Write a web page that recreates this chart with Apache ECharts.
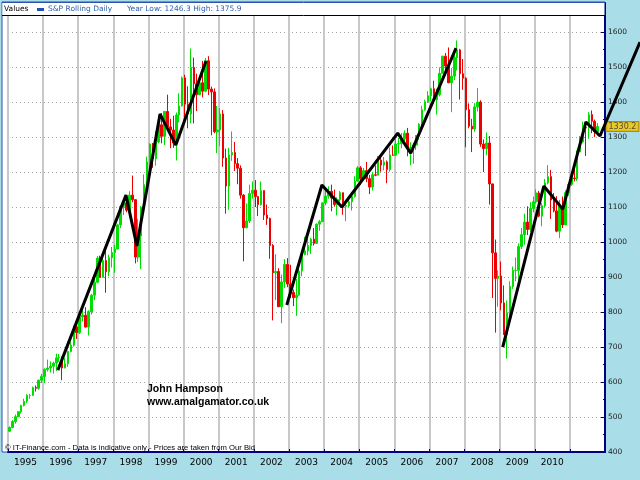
<!DOCTYPE html>
<html><head><meta charset="utf-8">
<script src="https://cdn.jsdelivr.net/npm/echarts@6/dist/echarts.min.js"></script>
<style>html,body{margin:0;padding:0;background:#a9dde8}#c{width:640px;height:480px}</style>
</head><body><div id="c"></div>
<script>
// Year band labels (last band 2011 unlabeled in the reference)
const yearLabels = ['1995','1996','1997','1998','1999','2000','2001','2002','2003','2004','2005','2006','2007','2008','2009','2010',''];
// Monthly-slot candles: [open, close, low, high]
const c1995 = [[459,470,459,473],[470,487,468,491],[487,501,481,507],[501,515,499,517],[515,533,510,535],[533,545,530,552],[545,562,540,565],[562,562,552,566],[562,584,560,587],[584,582,573,590],[582,605,578,607],[605,616,597,623]];
const c1996 = [[616,636,597,639],[636,640,630,664],[640,645,627,659],[645,654,624,658],[654,669,631,681],[669,671,657,680],[671,640,605,673],[640,652,639,669],[652,687,643,690],[687,705,685,714],[705,757,701,762],[757,741,723,761]];
const c1997 = [[741,786,737,794],[786,791,773,817],[791,757,756,814],[757,801,733,805],[801,848,793,852],[848,885,834,898],[885,954,882,960],[954,899,898,961],[899,947,898,960],[947,915,855,983],[915,955,902,964],[955,970,927,986]];
const c1998 = [[970,980,912,992],[980,1049,980,1052],[1049,1102,1040,1106],[1102,1112,1077,1124],[1112,1091,1085,1122],[1091,1134,1074,1145],[1134,1121,1114,1190],[1121,957,939,1122],[957,1017,943,1066],[1017,1099,923,1103],[1099,1164,1099,1193],[1164,1229,1136,1244]];
const c1999 = [[1229,1280,1205,1282],[1280,1238,1212,1283],[1238,1286,1218,1316],[1286,1335,1282,1362],[1335,1302,1282,1368],[1302,1373,1277,1375],[1373,1329,1323,1421],[1329,1320,1268,1352],[1320,1283,1269,1361],[1283,1363,1233,1370],[1363,1389,1342,1425],[1389,1469,1387,1473]];
const c2000 = [[1469,1394,1347,1478],[1394,1366,1325,1445],[1366,1499,1339,1553],[1499,1452,1339,1527],[1452,1421,1374,1481],[1421,1455,1420,1474],[1455,1431,1413,1517],[1431,1518,1428,1526],[1518,1437,1420,1531],[1437,1429,1305,1444],[1429,1315,1311,1439],[1315,1320,1254,1389]];
const c2001 = [[1320,1366,1274,1383],[1366,1240,1215,1377],[1240,1160,1081,1267],[1160,1249,1092,1269],[1249,1256,1232,1316],[1256,1224,1203,1286],[1224,1211,1165,1240],[1211,1134,1124,1219],[1134,1041,945,1137],[1041,1060,1039,1110],[1060,1139,1054,1164],[1139,1148,1124,1173]];
const c2002 = [[1148,1130,1100,1177],[1130,1107,1074,1131],[1107,1147,1104,1173],[1147,1077,1063,1147],[1077,1067,1049,1107],[1067,990,952,1070],[990,912,776,994],[912,916,834,965],[916,815,815,925],[815,886,768,907],[886,936,869,951],[936,880,871,954]];
const c2003 = [[880,856,840,935],[856,841,817,864],[841,848,789,895],[848,917,847,924],[917,964,902,965],[964,975,962,1015],[975,990,962,1015],[990,1008,966,1012],[1008,996,990,1040],[996,1051,995,1053],[1051,1058,1032,1063],[1058,1112,1058,1112]];
const c2004 = [[1112,1131,1105,1155],[1131,1145,1124,1159],[1145,1126,1088,1164],[1126,1107,1101,1150],[1107,1121,1076,1128],[1121,1141,1114,1146],[1141,1102,1078,1141],[1102,1104,1060,1109],[1104,1115,1100,1132],[1115,1130,1090,1142],[1130,1174,1127,1188],[1174,1212,1173,1217]];
const c2005 = [[1212,1181,1163,1217],[1181,1204,1180,1212],[1204,1181,1171,1229],[1181,1157,1137,1192],[1157,1192,1147,1200],[1192,1191,1188,1219],[1191,1234,1191,1246],[1234,1220,1201,1245],[1220,1229,1205,1243],[1229,1207,1168,1233],[1207,1249,1201,1270],[1249,1248,1246,1276]];
const c2006 = [[1248,1280,1245,1295],[1280,1281,1253,1297],[1281,1295,1268,1311],[1295,1311,1280,1319],[1311,1270,1245,1326],[1270,1270,1219,1285],[1270,1277,1224,1283],[1277,1304,1263,1306],[1304,1336,1291,1340],[1336,1378,1331,1389],[1378,1401,1375,1407],[1401,1418,1397,1431]];
const c2007 = [[1418,1438,1403,1441],[1438,1407,1396,1461],[1407,1421,1364,1438],[1421,1482,1416,1499],[1482,1531,1482,1532],[1531,1503,1487,1540],[1503,1455,1454,1556],[1455,1474,1371,1497],[1474,1527,1463,1539],[1527,1549,1490,1576],[1549,1481,1407,1552],[1481,1468,1435,1523]];
const c2008 = [[1468,1378,1271,1471],[1378,1331,1325,1396],[1331,1323,1257,1352],[1323,1386,1315,1397],[1386,1400,1373,1440],[1400,1280,1272,1405],[1280,1267,1200,1293],[1267,1283,1248,1313],[1283,1166,1107,1303],[1166,969,840,1167],[969,896,741,1007],[896,903,815,919]];
const c2009 = [[903,826,805,944],[826,735,735,876],[735,798,667,833],[798,873,784,888],[873,919,866,930],[919,919,888,956],[919,987,869,996],[987,1021,980,1040],[1021,1057,992,1081],[1057,1036,1020,1102],[1036,1096,1029,1114],[1096,1115,1085,1130]];
const c2010_11 = [[1115,1140,1110,1150],[1140,1074,1071,1146],[1074,1104,1045,1112],[1104,1169,1100,1180],[1169,1187,1165,1220],[1187,1120,1066,1206],[1120,1089,1085,1140],[1089,1031,1028,1131],[1031,1102,1011,1120],[1102,1049,1040,1130],[1049,1141,1049,1148],[1141,1165,1132,1170],[1165,1183,1160,1196],[1183,1181,1173,1227],[1181,1258,1174,1262],[1258,1286,1257,1303],[1286,1327,1282,1344],[1327,1326,1246,1332],[1326,1364,1295,1371],[1364,1345,1311,1376],[1345,1315,1300,1350],[1315,1330,1305,1340]];
// Hand-drawn black trend lines: [decimal year, value]
const trend1 = [[1996.42,634],[1998.36,1134],[1998.67,989],[1999.33,1366],[1999.78,1277],[2000.64,1517]];
const trend2 = [[2002.94,820],[2003.94,1163],[2004.51,1100],[2006.10,1311],[2006.47,1254],[2007.76,1554]];
const trend3 = [[2009.09,700],[2010.26,1160],[2010.80,1094],[2011.46,1343],[2011.86,1303],[2013.00,1571]];
const lastPrice = 1330.2;
const SLOT_COUNT = 204;

const candles = [].concat(c1995,c1996,c1997,c1998,c1999,c2000,c2001,c2002,c2003,c2004,c2005,c2006,c2007,c2008,c2009,c2010_11);
const slots = Array.from({length: SLOT_COUNT}, (_, i) => String(i));

const chart = echarts.init(document.getElementById('c'), null, {renderer: 'canvas'});
const FONT = 'DejaVu Sans';
const trendStyle = {type: 'line', xAxisIndex: 2, yAxisIndex: 1, symbol: 'none', clip: false, z: 6,
  lineStyle: {color: '#000', width: 3}, silent: true};
chart.setOption({
  animation: false,
  backgroundColor: '#a9dde8',
  grid: [
    {left: 8, right: 35, top: 3, bottom: 28, show: false},
    // overlay grid: same scale per year, extended to the right canvas edge (trend line runs off the plot)
    {left: 8, right: 0, top: 3, bottom: 28, show: false}
  ],
  graphic: [
    {type: 'rect', z: -10, shape: {x: 2, y: 2, width: 603, height: 450}, style: {fill: '#ffffff', stroke: '#3050b0', lineWidth: 1}},
    {type: 'rect', z: 10, shape: {x: 2.5, y: 2.5, width: 602, height: 13}, style: {fill: '#ffffff', stroke: null}},
    {type: 'line', z: 10, shape: {x1: 2, y1: 15.5, x2: 605, y2: 15.5}, style: {stroke: '#000', lineWidth: 1}},
    {type: 'line', z: 10, shape: {x1: 2, y1: 2.5, x2: 605, y2: 2.5}, style: {stroke: '#3050b0', lineWidth: 1}},
    {type: 'text', z: 11, x: 4, y: 9, style: {text: 'Values', fill: '#000', font: '7.5px ' + FONT, textVerticalAlign: 'middle'}},
    {type: 'rect', z: 11, shape: {x: 37, y: 8, width: 7, height: 3}, style: {fill: '#2050c0'}},
    {type: 'text', z: 11, x: 48, y: 9, style: {text: 'S&P Rolling Daily', fill: '#3060b0', font: '7.5px ' + FONT, textVerticalAlign: 'middle'}},
    {type: 'text', z: 11, x: 127, y: 9, style: {text: 'Year Low: 1246.3 High: 1375.9', fill: '#3060b0', font: '7.5px ' + FONT, textVerticalAlign: 'middle'}},
    {type: 'text', z: 11, x: 5, y: 448, style: {text: '\u00a9 IT-Finance.com - Data is indicative only - Prices are taken from Our Bid', fill: '#000', font: '7.7px Liberation Sans', textVerticalAlign: 'middle'}},
    {type: 'text', z: 11, x: 147, y: 389, style: {text: 'John Hampson', fill: '#000', font: 'bold 10.5px Liberation Sans', textVerticalAlign: 'middle'}},
    {type: 'text', z: 11, x: 147, y: 402, style: {text: 'www.amalgamator.co.uk', fill: '#000', font: 'bold 10.5px Liberation Sans', textVerticalAlign: 'middle'}}
  ],
  xAxis: [
    {type: 'category', gridIndex: 0, data: yearLabels, boundaryGap: true, position: 'bottom',
     axisLine: {show: true, lineStyle: {color: '#000080', width: 2}},
     axisTick: {show: true, inside: true, length: 3, interval: 0, lineStyle: {color: '#000080'}},
     axisLabel: {interval: 0, color: '#000', fontSize: 9, fontFamily: FONT, margin: 6},
     splitLine: {show: true, interval: 0, lineStyle: {color: '#c8c8c8', width: 2}}},
    {type: 'category', gridIndex: 0, data: slots, boundaryGap: true, show: false},
    {type: 'value', gridIndex: 1, min: 1995, max: 2013, show: false}
  ],
  yAxis: [
    {type: 'value', gridIndex: 0, position: 'right', min: 400, max: 1683, interval: 100,
    axisLine: {show: true, lineStyle: {color: '#000080', width: 2}},
    axisTick: {show: true, inside: true, length: 4, lineStyle: {color: '#000080'}},
    minorTick: {show: true, splitNumber: 2, length: 2, lineStyle: {color: '#000080'}},
    axisLabel: {color: '#222', fontSize: 7.5, fontFamily: FONT, margin: 3, showMaxLabel: false, formatter: v => String(v)},
    splitLine: {show: true, lineStyle: {type: [1, 3], color: '#a0a0a0'}}},
    {type: 'value', gridIndex: 1, min: 400, max: 1683, show: false}
  ],
  series: [
    {type: 'candlestick', xAxisIndex: 1, yAxisIndex: 0, data: candles, barWidth: '70%', z: 3,
     itemStyle: {color: '#00dd00', color0: '#ee0000', borderColor: '#00dd00', borderColor0: '#ee0000', borderWidth: 1}},
    Object.assign({data: trend1}, trendStyle),
    Object.assign({data: trend2}, trendStyle),
    Object.assign({data: trend3}, trendStyle),
    {type: 'scatter', xAxisIndex: 2, yAxisIndex: 1, data: [[2012, lastPrice]], symbolSize: 1, clip: false, z: 5,
     itemStyle: {color: 'rgba(0,0,0,0)'},
     label: {show: true, position: 'right', distance: 1, formatter: () => lastPrice.toFixed(1),
       backgroundColor: '#f5c400', borderColor: '#a07800', borderWidth: 1, padding: [1, 2, 0, 2],
       color: '#303030', fontSize: 8, fontFamily: FONT}}
  ]
});
</script></body></html>
